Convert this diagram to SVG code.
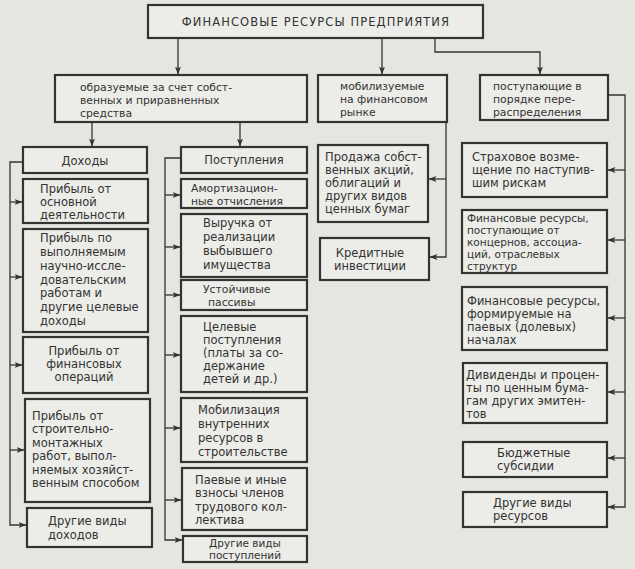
<svg xmlns="http://www.w3.org/2000/svg" width="635" height="569" viewBox="0 0 635 569">
<defs>
<style>
.bx{fill:#ecece8;stroke:#333;stroke-width:2.2}
.t{font-family:"DejaVu Sans","Liberation Sans",sans-serif;font-size:11.5px;fill:#333}
.s{font-size:10.8px}
.c{text-anchor:middle}
.ln{fill:none;stroke:#333;stroke-width:1.3}
</style>
<marker id="ar" viewBox="0 0 8 6" refX="7.5" refY="3" markerWidth="8" markerHeight="6" markerUnits="userSpaceOnUse" orient="auto">
<path d="M0,0 L8,3 L0,6 L2,3 Z" fill="#333"/>
</marker>
</defs>
<rect width="635" height="569" fill="#e6e6e1"/>

<g id="connectors" class="ln" marker-end="url(#ar)">
<path d="M178,38 V74"/>
<path d="M382,38 V74"/>
<path d="M435,38 V52 H540 V74"/>
<path d="M92,122 V146"/>
<path d="M240,122 V146"/>
<path d="M23,162 H10 V525 H26"/>
<path d="M10,202 H22"/>
<path d="M10,277 H22"/>
<path d="M10,365 H22"/>
<path d="M10,450 H24"/>
<path d="M181,158 H165 V540 H182"/>
<path d="M165,195 H180"/>
<path d="M165,247 H180"/>
<path d="M165,295 H180"/>
<path d="M165,355 H180"/>
<path d="M165,428 H180"/>
<path d="M165,500 H181"/>
<path d="M446,122 V257 H430"/>
<path d="M446,179 H429"/>
<path d="M608,95 H625 V507 H608"/>
<path d="M625,170 H608"/>
<path d="M625,240 H608"/>
<path d="M625,318 H608"/>
<path d="M625,392 H608"/>
<path d="M625,458 H608"/>
</g>

<g id="root"><rect class="bx" x="148" y="5" width="335" height="33"/>
<text class="t c" x="316" y="26" style="font-size:11.5px;letter-spacing:1.1px">ФИНАНСОВЫЕ РЕСУРСЫ  ПРЕДПРИЯТИЯ</text></g>

<g id="own"><rect class="bx" x="55" y="75" width="252" height="47"/>
<text class="t s" x="80" y="91">образуемые за счет собст-</text>
<text class="t s" x="80" y="104">венных и приравненных</text>
<text class="t s" x="80" y="117">средства</text></g>

<g id="market"><rect class="bx" x="318" y="75" width="129" height="47"/>
<text class="t s" x="340" y="90">мобилизуемые</text>
<text class="t s" x="340" y="103">на финансовом</text>
<text class="t s" x="340" y="116">рынке</text></g>

<g id="redistr"><rect class="bx" x="480" y="75" width="128" height="45"/>
<text class="t s" x="493" y="90">поступающие в</text>
<text class="t s" x="493" y="103">порядке пере-</text>
<text class="t s" x="493" y="116">распределения</text></g>

<g id="dohody"><rect class="bx" x="23" y="147" width="124" height="26"/>
<text class="t c" x="85" y="165">Доходы</text></g>

<g id="d1"><rect class="bx" x="23" y="179" width="125" height="44"/>
<text class="t" x="40" y="193">Прибыль от</text>
<text class="t" x="40" y="206">основной</text>
<text class="t" x="40" y="219">деятельности</text></g>

<g id="d2"><rect class="bx" x="23" y="229" width="125" height="103"/>
<text class="t" x="40" y="242">Прибыль по</text>
<text class="t" x="40" y="256">выполняемым</text>
<text class="t" x="40" y="270">научно-иссле-</text>
<text class="t" x="40" y="284">довательским</text>
<text class="t" x="40" y="297">работам и</text>
<text class="t" x="40" y="311">другие целевые</text>
<text class="t" x="40" y="325">доходы</text></g>

<g id="d3"><rect class="bx" x="23" y="337" width="125" height="56"/>
<text class="t c" x="84" y="355">Прибыль от</text>
<text class="t c" x="84" y="368">финансовых</text>
<text class="t c" x="84" y="381">операций</text></g>

<g id="d4"><rect class="bx" x="25" y="399" width="125" height="103"/>
<text class="t" x="32" y="420">Прибыль от</text>
<text class="t" x="32" y="433">строительно-</text>
<text class="t" x="32" y="447">монтажных</text>
<text class="t" x="32" y="460">работ, выпол-</text>
<text class="t" x="32" y="474">няемых хозяйст-</text>
<text class="t" x="32" y="487">венным способом</text></g>

<g id="d5"><rect class="bx" x="27" y="508" width="125" height="39"/>
<text class="t" x="48" y="525">Другие виды</text>
<text class="t" x="48" y="539">доходов</text></g>

<g id="post"><rect class="bx" x="181" y="147" width="126" height="26"/>
<text class="t c" x="244" y="164">Поступления</text></g>

<g id="p1"><rect class="bx" x="181" y="179" width="126" height="29"/>
<text class="t s" x="191" y="192">Амортизацион-</text>
<text class="t s" x="191" y="204.5">ные отчисления</text></g>

<g id="p2"><rect class="bx" x="181" y="214" width="126" height="63"/>
<text class="t" x="203" y="227">Выручка от</text>
<text class="t" x="203" y="241">реализации</text>
<text class="t" x="203" y="255">выбывшего</text>
<text class="t" x="203" y="269">имущества</text></g>

<g id="p3"><rect class="bx" x="181" y="280" width="126" height="30"/>
<text class="t s" x="203" y="293">Устойчивые</text>
<text class="t s" x="208" y="306">пассивы</text></g>

<g id="p4"><rect class="bx" x="181" y="316" width="126" height="76"/>
<text class="t" x="203" y="331">Целевые</text>
<text class="t" x="203" y="344">поступления</text>
<text class="t" x="203" y="357">(платы за со-</text>
<text class="t" x="203" y="370">держание</text>
<text class="t" x="203" y="383">детей и др.)</text></g>

<g id="p5"><rect class="bx" x="181" y="398" width="126" height="64"/>
<text class="t" x="198" y="414">Мобилизация</text>
<text class="t" x="198" y="428">внутренних</text>
<text class="t" x="198" y="442">ресурсов в</text>
<text class="t" x="198" y="456">строительстве</text></g>

<g id="p6"><rect class="bx" x="182" y="468" width="125" height="62"/>
<text class="t" x="195" y="484">Паевые и иные</text>
<text class="t" x="195" y="497">взносы членов</text>
<text class="t" x="195" y="511">трудового кол-</text>
<text class="t" x="195" y="524">лектива</text></g>

<g id="p7"><rect class="bx" x="183" y="536" width="124" height="26"/>
<text class="t c" x="245" y="547" style="font-size:10.5px">Другие виды</text>
<text class="t c" x="245" y="559" style="font-size:10.5px">поступлений</text></g>

<g id="m1"><rect class="bx" x="318" y="145" width="110" height="77"/>
<text class="t" x="325" y="161">Продажа собст-</text>
<text class="t" x="325" y="174">венных акций,</text>
<text class="t" x="325" y="187">облигаций и</text>
<text class="t" x="325" y="200">других видов</text>
<text class="t" x="325" y="213">ценных бумаг</text></g>

<g id="m2"><rect class="bx" x="320" y="238" width="109" height="42"/>
<text class="t c" x="370" y="257">Кредитные</text>
<text class="t c" x="370" y="270">инвестиции</text></g>

<g id="r1"><rect class="bx" x="462" y="143" width="145" height="54"/>
<text class="t" x="472" y="161">Страховое возме-</text>
<text class="t" x="472" y="174">щение по наступив-</text>
<text class="t" x="472" y="187">шим рискам</text></g>

<g id="r2"><rect class="bx" x="462" y="210" width="145" height="63"/>
<text class="t" x="467" y="222" style="font-size:10.5px">Финансовые ресурсы,</text>
<text class="t" x="467" y="234" style="font-size:10.5px">поступающие от</text>
<text class="t" x="467" y="246" style="font-size:10.5px">концернов, ассоциа-</text>
<text class="t" x="467" y="258" style="font-size:10.5px">ций, отраслевых</text>
<text class="t" x="467" y="270" style="font-size:10.5px">структур</text></g>

<g id="r3"><rect class="bx" x="462" y="287" width="145" height="63"/>
<text class="t" x="467" y="305">Финансовые ресурсы,</text>
<text class="t" x="467" y="318">формируемые на</text>
<text class="t" x="467" y="331">паевых (долевых)</text>
<text class="t" x="467" y="344">началах</text></g>

<g id="r4"><rect class="bx" x="463" y="363" width="144" height="60"/>
<text class="t" x="466" y="379">Дивиденды и процен-</text>
<text class="t" x="466" y="392">ты по ценным бума-</text>
<text class="t" x="466" y="405">гам других эмитен-</text>
<text class="t" x="466" y="418">тов</text></g>

<g id="r5"><rect class="bx" x="463" y="442" width="144" height="35"/>
<text class="t" x="497" y="457">Бюджетные</text>
<text class="t" x="497" y="470">субсидии</text></g>

<g id="r6"><rect class="bx" x="463" y="492" width="144" height="35"/>
<text class="t" x="493" y="507">Другие виды</text>
<text class="t" x="493" y="520">ресурсов</text></g>
</svg>
